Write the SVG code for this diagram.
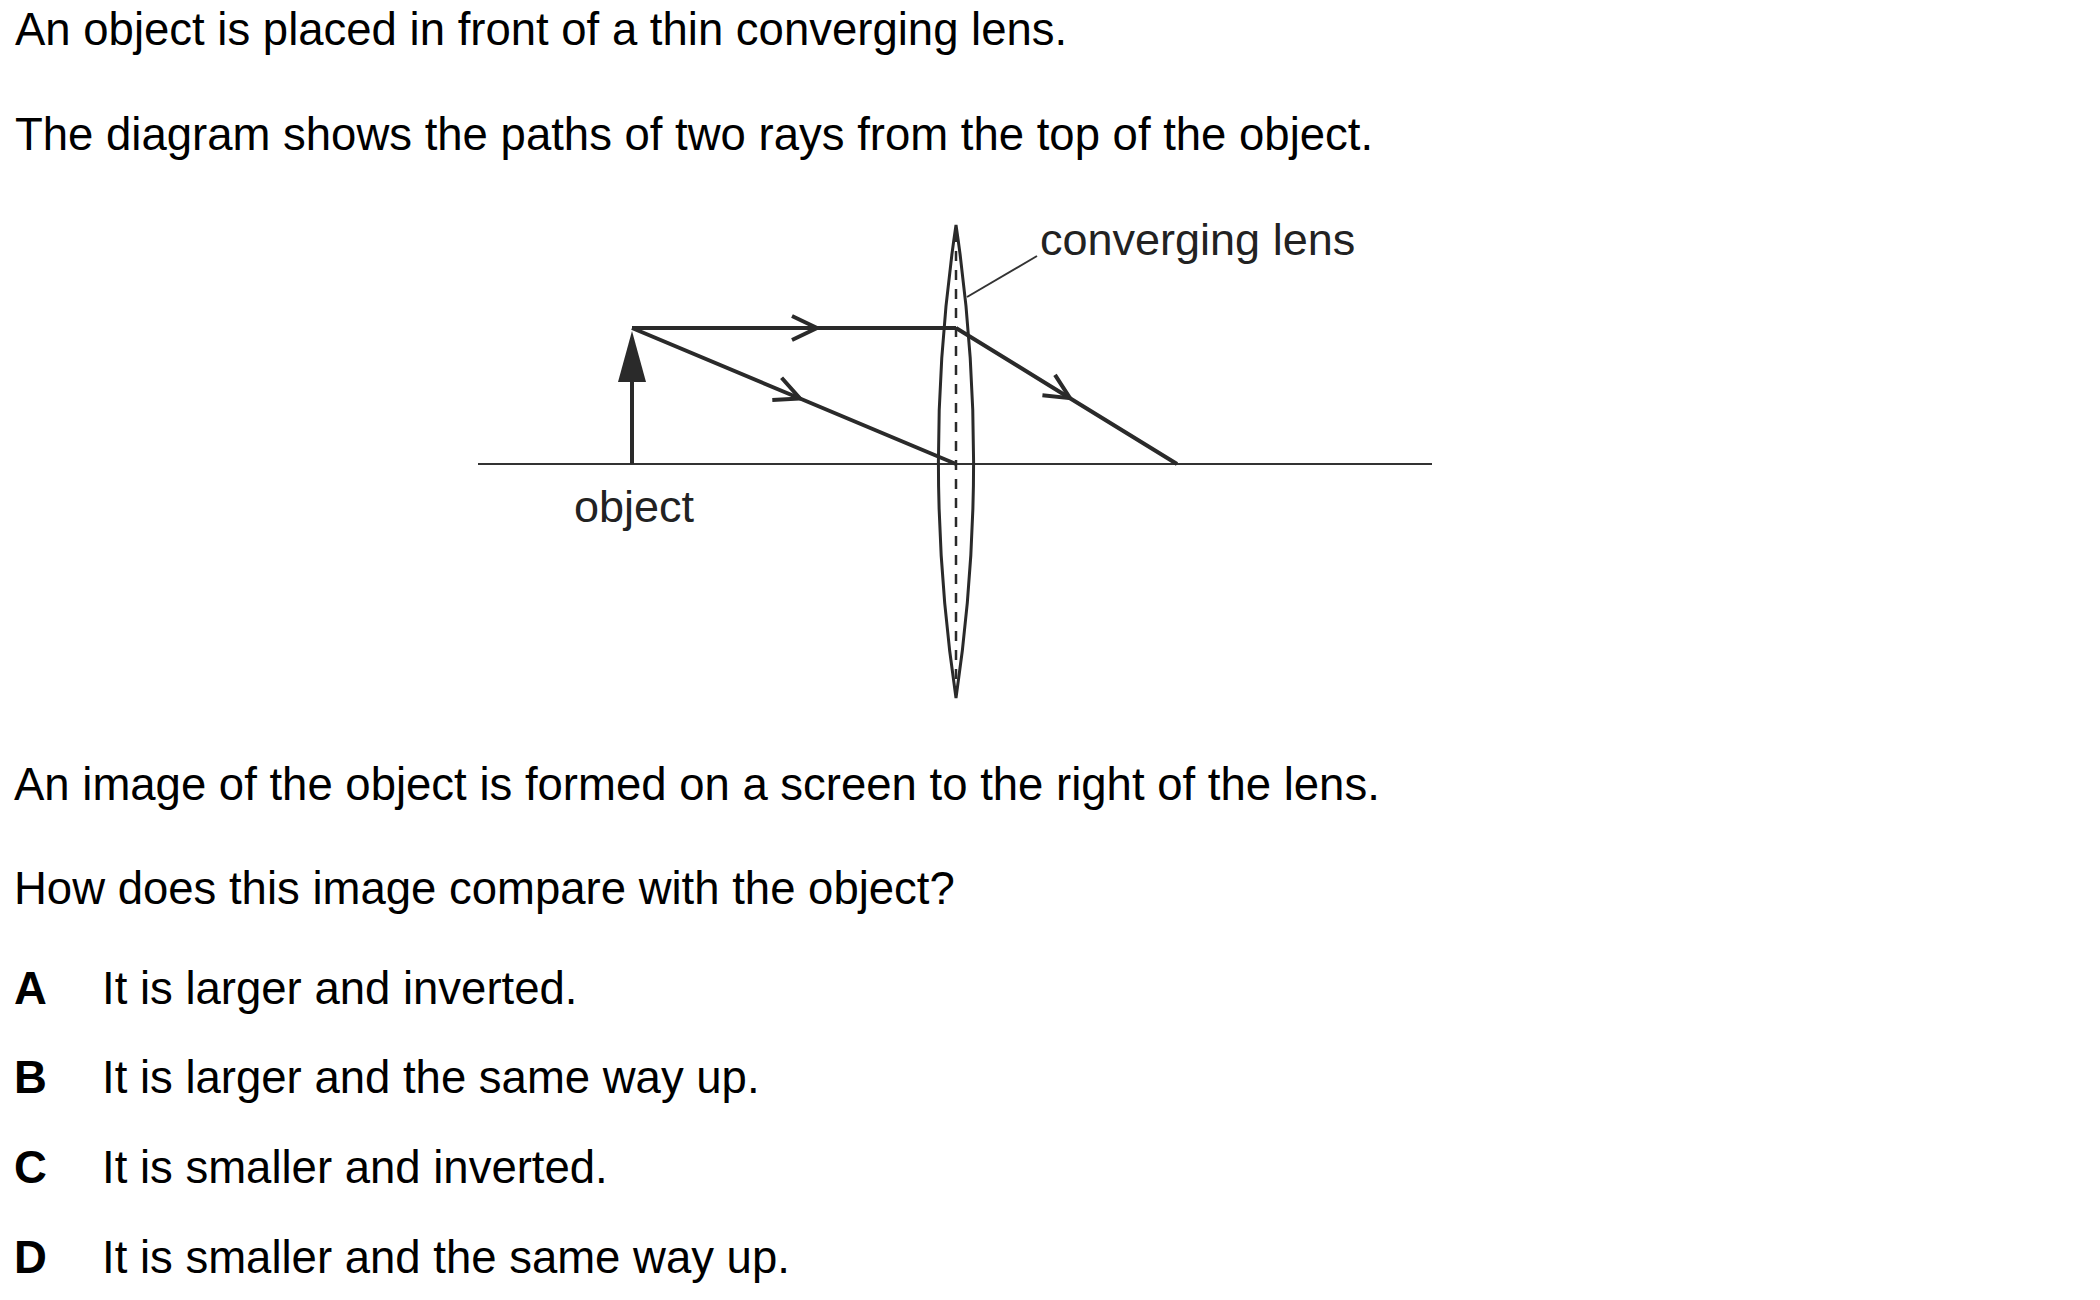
<svg xmlns="http://www.w3.org/2000/svg" width="2100" height="1300" viewBox="0 0 2100 1300">
  <style>
    .txt { font-family: "Liberation Sans", Arial, sans-serif; font-size: 45.5px; fill: #000; }
    .opt { font-family: "Liberation Sans", Arial, sans-serif; font-size: 45.5px; font-weight: bold; fill: #000; }
    .lbl { font-family: "Liberation Sans", Arial, sans-serif; font-size: 45px; fill: #222; }
    .ray { fill: none; stroke: #2a2a2a; stroke-width: 4; stroke-linejoin: round; }
    .axis { fill: none; stroke: #333; stroke-width: 2; }
    .lens { fill: none; stroke: #2a2a2a; stroke-width: 3; }
    .dash { fill: none; stroke: #2a2a2a; stroke-width: 2.5; stroke-dasharray: 10 9; }
    .lead { fill: none; stroke: #333; stroke-width: 2; }
  </style>
  <defs>
    <marker id="chev" markerUnits="userSpaceOnUse" orient="auto" markerWidth="60" markerHeight="60" refX="0" refY="0" viewBox="-30 -30 60 60" overflow="visible">
      <path d="M-25,-12 L0,0 L-25,12" fill="none" stroke="#2a2a2a" stroke-width="4" stroke-linejoin="miter"/>
    </marker>
  </defs>
  <rect width="2100" height="1300" fill="#fff"/>

  <g id="question-text">
    <text class="txt" x="15" y="45">An object is placed in front of a thin converging lens.</text>
    <text class="txt" x="15" y="150">The diagram shows the paths of two rays from the top of the object.</text>
    <text class="txt" x="14" y="800">An image of the object is formed on a screen to the right of the lens.</text>
    <text class="txt" x="14" y="904">How does this image compare with the object?</text>
  </g>

  <g id="options">
    <text class="opt" x="14" y="1004">A</text>
    <text class="txt" x="102" y="1004">It is larger and inverted.</text>
    <text class="opt" x="14" y="1093">B</text>
    <text class="txt" x="102" y="1093">It is larger and the same way up.</text>
    <text class="opt" x="14" y="1183">C</text>
    <text class="txt" x="102" y="1183">It is smaller and inverted.</text>
    <text class="opt" x="14" y="1273">D</text>
    <text class="txt" x="102" y="1273">It is smaller and the same way up.</text>
  </g>

  <g id="principal-axis">
    <line class="axis" x1="478" y1="464" x2="1432" y2="464"/>
  </g>

  <g id="lens">
    <path class="lens" d="M956,225 A1607,1607 0 0 0 956,698 A1607,1607 0 0 0 956,225 Z"/>
    <line class="dash" x1="956" y1="232" x2="956" y2="692"/>
  </g>

  <g id="object">
    <line x1="632" y1="464" x2="632" y2="370" stroke="#2a2a2a" stroke-width="4"/>
    <polygon points="632,331 618,382 646,382" fill="#2a2a2a"/>
    <text class="lbl" x="574" y="522">object</text>
  </g>

  <g id="lens-label">
    <text class="lbl" x="1040" y="255">converging lens</text>
  </g>

  <g id="connectors">
    <path class="ray" marker-mid="url(#chev)" d="M632,328 L817,328 L956,328"/>
    <path class="ray" marker-mid="url(#chev)" d="M956,328 L1070,398.2 L1177,464"/>
    <path class="ray" marker-mid="url(#chev)" d="M632,328 L800,398.5 L956,464"/>
    <line class="lead" x1="967" y1="297" x2="1037" y2="256"/>
  </g>
</svg>
